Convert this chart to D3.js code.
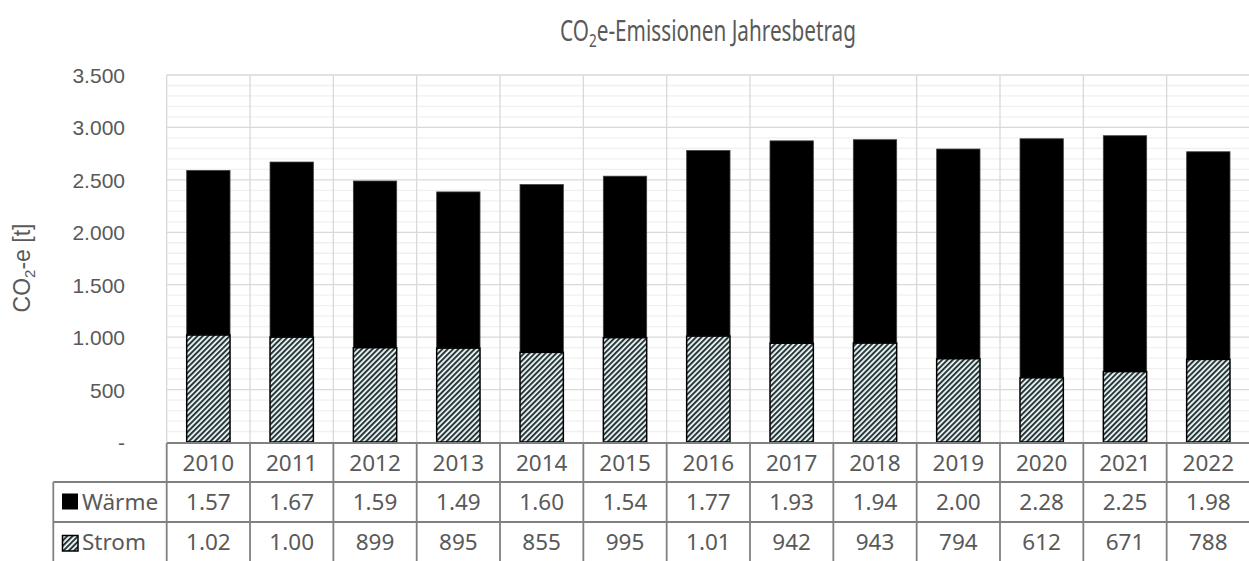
<!DOCTYPE html>
<html><head><meta charset="utf-8">
<script src="https://cdn.jsdelivr.net/npm/d3@7"></script>
<style>
html,body{margin:0;padding:0;background:#fff;}
svg{display:block;}
</style></head>
<body>
<svg id="chart" width="1249" height="561"></svg>
<script>
const years = ["2010","2011","2012","2013","2014","2015","2016","2017","2018","2019","2020","2021","2022"];
const waerme = [1570,1670,1590,1490,1600,1540,1770,1930,1940,2000,2280,2250,1980];
const strom = [1020,1000,899,895,855,995,1010,942,943,794,612,671,788];
const waermeLabels = ["1.57","1.67","1.59","1.49","1.60","1.54","1.77","1.93","1.94","2.00","2.28","2.25","1.98"];
const stromLabels = ["1.02","1.00","899","895","855","995","1.01","942","943","794","612","671","788"];
const yTicks = [0,500,1000,1500,2000,2500,3000,3500];
const yTickLabels = ["-","500","1.000","1.500","2.000","2.500","3.000","3.500"];
const seriesNames = ["Wärme","Strom"];

(function(){
const svg = d3.select("#chart");
const pL = 166.7, pR = 1249, pT = 75, pB = 442;
const tableFont = "'Noto Sans', 'Open Sans', sans-serif";
const axisFont = "'Liberation Sans', Arial, sans-serif";
const txt = "#595959";

const x = d3.scaleBand().domain(years).range([pL, pL + 83.33*13]).paddingInner(0).paddingOuter(0);
const y = d3.scaleLinear().domain([0,3500]).range([pB, pT]);

const defs = svg.append("defs");
const pw = 3.8;
const pat = defs.append("pattern").attr("id","stripes").attr("patternUnits","userSpaceOnUse")
  .attr("width",pw).attr("height",pw).attr("patternTransform","rotate(45)");
pat.append("rect").attr("width",pw).attr("height",pw).attr("fill","#fff");
pat.append("rect").attr("width",pw*0.55).attr("height",pw).attr("fill","#243a3d");

// minor grid
const minor = d3.range(100,3500,100).filter(v=>v%500!==0);
svg.append("g").selectAll("line").data(minor).join("line")
  .attr("x1",pL).attr("x2",pR).attr("y1",d=>y(d)).attr("y2",d=>y(d))
  .attr("stroke","#f0f0f0").attr("stroke-width",1.3);
// major grid
svg.append("g").selectAll("line").data(yTicks.filter(d=>d>0)).join("line")
  .attr("x1",pL).attr("x2",pR).attr("y1",d=>y(d)).attr("y2",d=>y(d))
  .attr("stroke","#d9d9d9").attr("stroke-width",1.3);
// vertical grid
const bounds = years.map(d=>x(d)).concat([x(years[12])+x.bandwidth()]);
svg.append("g").selectAll("line").data(bounds).join("line")
  .attr("x1",d=>d).attr("x2",d=>d).attr("y1",pT).attr("y2",pB)
  .attr("stroke","#d9d9d9").attr("stroke-width",1.3);

// y axis
const yAxis = d3.axisLeft(y).tickValues(yTicks).tickSize(0).tickPadding(0)
  .tickFormat((d,i)=>yTickLabels[i]);
const ya = svg.append("g").attr("transform","translate(125,0)").call(yAxis);
ya.select(".domain").remove();
ya.selectAll("text").attr("font-family",axisFont).attr("font-size",21).attr("fill",txt).attr("dy","0.36em");

// y title
svg.append("text").attr("transform","translate(30,268) rotate(-90)").attr("text-anchor","middle")
  .attr("font-family",axisFont).attr("font-size",23).attr("fill",txt)
  .html('CO<tspan font-size="15" dy="5">2</tspan><tspan dy="-5">-e [t]</tspan>');

// title (condensed look)
const tg = svg.append("g");
const tt = tg.append("text").attr("x",0).attr("y",0).attr("text-anchor","middle")
  .attr("font-family",tableFont).attr("font-size",29).attr("fill",txt)
  .html('CO<tspan font-size="19" dy="6">2</tspan><tspan dy="-6">e-Emissionen Jahresbetrag</tspan>');
const tw = tt.node().getBBox().width;
tg.attr("transform",`translate(${(560+856)/2},41) scale(${296/tw},1)`);

// bars
const bw = x.bandwidth()*0.52;
const off = (x.bandwidth()-bw)/2;
svg.append("g").selectAll("rect").data(years).join("rect")
  .attr("x",d=>x(d)+off).attr("width",bw)
  .attr("y",(d,i)=>y(strom[i]+waerme[i])).attr("height",(d,i)=>y(strom[i])-y(strom[i]+waerme[i]))
  .attr("fill","#000").attr("stroke","#404040").attr("stroke-width",0.8);
svg.append("g").selectAll("rect").data(years).join("rect")
  .attr("x",d=>x(d)+off).attr("width",bw)
  .attr("y",(d,i)=>y(strom[i])).attr("height",(d,i)=>y(0)-y(strom[i]))
  .attr("fill","url(#stripes)").attr("stroke","#000").attr("stroke-width",1.5);

// data table
const rowY = [443, 482, 522, 561];
const tbl = svg.append("g").attr("stroke","#808080").attr("stroke-width",1.8);
tbl.append("line").attr("x1",pL).attr("x2",pR).attr("y1",rowY[0]).attr("y2",rowY[0]);
tbl.append("line").attr("x1",53.3).attr("x2",pR).attr("y1",rowY[1]).attr("y2",rowY[1]);
tbl.append("line").attr("x1",53.3).attr("x2",pR).attr("y1",rowY[2]).attr("y2",rowY[2]);
tbl.append("line").attr("x1",53.3).attr("x2",53.3).attr("y1",rowY[1]).attr("y2",rowY[3]);
tbl.selectAll(".v").data(bounds.slice(0,13)).join("line").attr("class","v")
  .attr("x1",d=>d).attr("x2",d=>d).attr("y1",rowY[0]).attr("y2",rowY[3]);

const cell = (arr, ry) => svg.append("g").selectAll("text").data(arr).join("text")
  .attr("x",(d,i)=>x(years[i])+x.bandwidth()/2).attr("y",ry).attr("dy","0.36em")
  .attr("text-anchor","middle").attr("font-family",tableFont).attr("font-size",22.5).attr("fill",txt)
  .text(d=>d);
cell(years,(rowY[0]+rowY[1])/2);
cell(waermeLabels,(rowY[1]+rowY[2])/2);
cell(stromLabels,(rowY[2]+rowY[3])/2);

// legend keys
svg.append("rect").attr("x",62).attr("y",493.5).attr("width",16).attr("height",16).attr("fill","#000");
svg.append("rect").attr("x",62.5).attr("y",535.5).attr("width",15.5).attr("height",15.5)
  .attr("fill","url(#stripes)").attr("stroke","#000").attr("stroke-width",1.5);
svg.append("g").selectAll("text").data(seriesNames).join("text")
  .attr("x",82).attr("y",(d,i)=>i===0?(rowY[1]+rowY[2])/2:(rowY[2]+rowY[3])/2).attr("dy","0.36em")
  .attr("font-family",tableFont).attr("font-size",22.5).attr("fill",txt).text(d=>d);
})();
</script>
</body></html>
